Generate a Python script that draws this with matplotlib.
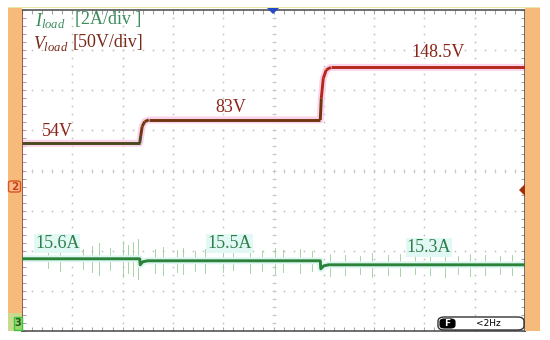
import numpy as np
import matplotlib
matplotlib.use("Agg")
import matplotlib.pyplot as plt
from matplotlib.patches import Rectangle, FancyBboxPatch, Polygon
from matplotlib.collections import LineCollection

# ---------------- data ----------------
# time in screen divisions, voltage in V, current in A
v_time = [0.0, 2.34, 2.36, 2.39, 2.44, 2.52, 5.93, 5.95, 5.99, 6.05, 6.14, 10.0]
v_load = [54.0, 54.0, 63.0, 75.0, 81.0, 83.0, 83.0, 110.0, 135.0, 145.5, 148.5, 148.5]

i_time = [0.0, 2.34, 2.35, 2.40, 2.50, 5.93, 5.94, 6.00, 6.10, 10.0]
i_load = [15.6, 15.6, 15.3, 15.45, 15.5, 15.5, 15.1, 15.25, 15.3, 15.3]

spike_time = [0.52, 0.75, 1.21, 1.39, 1.53, 1.75, 2.01, 2.11, 2.21, 2.31, 2.64, 2.80,
              3.08, 3.20, 3.44, 3.64, 3.99, 4.19, 4.53, 4.77, 5.03, 5.19, 5.53, 5.77,
              6.12, 6.42, 6.72, 6.96, 7.28, 7.52, 7.82, 8.11, 8.41, 8.67, 8.91, 9.21,
              9.51, 9.75]
spike_amp = [0.45, 0.6, 0.5, 0.65, 0.8, 0.55, 0.9, 0.7, 0.85, 1.0, 0.6, 0.7,
             0.55, 0.65, 0.5, 0.6, 0.55, 0.45, 0.6, 0.5, 0.65, 0.55, 0.6, 0.5,
             0.55, 0.5, 0.45, 0.6, 0.5, 0.55, 0.45, 0.5, 0.6, 0.45, 0.55, 0.5,
             0.45, 0.5]

v_labels = ["54V", "83V", "148.5V"]
i_labels = ["15.6A", "15.5A", "15.3A"]
v_scale = "[50V/div]"
i_scale = "[2A/div ]"

# channel scaling: volts/div, offset (div); amps/div, offset (div)
V_PER_DIV, V_OFF = 50.0, -0.4
A_PER_DIV, A_OFF = 2.0, -10.0

def vdiv(v):
    return np.asarray(v) / V_PER_DIV + V_OFF

def idiv(i):
    return np.asarray(i) / A_PER_DIV + A_OFF

plt.rcParams['mathtext.fontset'] = 'custom'
plt.rcParams['mathtext.rm'] = 'Liberation Serif'
plt.rcParams['mathtext.it'] = 'Liberation Serif:italic'
SERIF = 'Liberation Serif'

W, H = 550, 340
fig = plt.figure(figsize=(W / 100, H / 100), dpi=100)
fig.patch.set_facecolor('white')

def fx(px):
    return px / W

def fy(py):
    return 1 - py / H

# side bars
ORANGE = '#F6BB7A'
fig.patches.append(Rectangle((fx(8), fy(331)), fx(14), (331 - 7) / H, transform=fig.transFigure,
                             facecolor=ORANGE, edgecolor='none', zorder=0))
fig.patches.append(Rectangle((fx(525), fy(331)), fx(15), (331 - 7) / H, transform=fig.transFigure,
                             facecolor=ORANGE, edgecolor='none', zorder=0))
fig.patches.append(Rectangle((fx(8), fy(331)), fx(14), 18 / H, transform=fig.transFigure,
                             facecolor='#C9DA8E', edgecolor='none', zorder=1))
fig.patches.append(Rectangle((fx(8), fy(8)), fx(532), 1.5 / H, transform=fig.transFigure,
                             facecolor='#E8E6A8', edgecolor='none', zorder=1))

ax = fig.add_axes([fx(22), fy(331), 503 / W, 321 / H])
ax.set_xlim(0, 10)
ax.set_ylim(-4, 4)
ax.set_facecolor('white')

# ticks on border
ax.set_xticks(np.arange(0, 11, 1))
ax.set_yticks(np.arange(-4, 5, 1))
ax.set_xticks(np.arange(0, 10.01, 0.2), minor=True)
ax.set_yticks(np.arange(-4, 4.01, 0.2), minor=True)
ax.tick_params(which='both', direction='in', length=3, width=0.8, color='#a5a5a5',
               top=True, right=True, labelbottom=False, labelleft=False)
for s in ['top', 'bottom', 'right']:
    ax.spines[s].set_color('#555555')
    ax.spines[s].set_linewidth(1.2)
ax.spines['left'].set_color('#8a3a2a')
ax.spines['left'].set_linewidth(1.2)

# dotted grid
GRID = '#bdbdbd'
xs = np.arange(0, 10.01, 0.2)
ys = np.arange(-4, 4.01, 0.2)
for k in range(1, 10):
    ax.plot(np.full_like(ys, k), ys, ls='none', marker='s', ms=1.1, mec='none', mfc=GRID, zorder=1)
for j in range(-3, 4):
    ax.plot(xs, np.full_like(xs, j), ls='none', marker='s', ms=1.1, mec='none', mfc=GRID, zorder=1)
# centre axes with small ticks
ax.plot(xs, np.zeros_like(xs), ls='none', marker='|', ms=3.5, mew=0.7, color='#c8c8c8', zorder=1)
ax.plot(np.full_like(ys, 5), ys, ls='none', marker='_', ms=3.5, mew=0.7, color='#c8c8c8', zorder=1)

# current noise spikes
for t, a in zip(spike_time, spike_amp):
    base = np.interp(t, i_time, i_load)
    ax.plot([t, t], idiv([base - a, base + a]), color='#98CC98', lw=0.6, zorder=2)

# current trace
ax.plot(i_time, idiv(i_load), color='#DDF6F2', lw=5, solid_capstyle='butt', zorder=2)
ax.plot(i_time, idiv(i_load), color='#2C8239', lw=2.1, solid_capstyle='butt', zorder=3)

# voltage trace (colour by level, as on the screen)
vt = np.asarray(v_time)
vy = vdiv(v_load)
ax.plot(vt, vy, color='#FAD3EA', lw=5.0, solid_capstyle='butt', zorder=2)
segs = [[(vt[n], vy[n]), (vt[n + 1], vy[n + 1])] for n in range(len(vt) - 1)]
cols = []
for n in range(len(vt) - 1):
    m = 0.5 * (v_load[n] + v_load[n + 1])
    cols.append('#4A4A1E' if m < 60 else ('#70360F' if m < 100 else '#B4291B'))
ax.add_collection(LineCollection(segs, colors=cols, linewidths=2.1, zorder=3, capstyle='butt'))

# value labels
VCOL = '#8A2418'
ICOL = '#2E7E4A'
v_pos = [(0.40, 0.98), (3.84, 1.58), (7.75, 2.93)]
i_pos = [(0.26, -1.81), (3.68, -1.81), (7.65, -1.91)]
for (x, y), s in zip(v_pos, v_labels):
    ax.text(x, y, s, color=VCOL, fontsize=13, family=SERIF, va='center', ha='left', zorder=4)
for (x, y), s in zip(i_pos, i_labels):
    ax.text(x, y, s, color=ICOL, fontsize=13, family=SERIF, va='center', ha='left', zorder=4,
            bbox=dict(boxstyle='square,pad=0.05', fc='#E2F8F5', ec='none'))

# scale legend
ax.text(0.26, 3.72, r'$I_{load}$', color='#3C8C5C', fontsize=13, va='center', ha='left', zorder=4)
ax.text(1.05, 3.76, i_scale, color='#3C8C5C', fontsize=13, family=SERIF, va='center', ha='left', zorder=4)
ax.text(0.22, 3.16, r'$V_{load}$', color='#7A2A1A', fontsize=13, va='center', ha='left', zorder=4)
ax.text(1.00, 3.20, v_scale, color='#7A2A1A', fontsize=13, family=SERIF, va='center', ha='left', zorder=4)

# markers: trigger, channel refs
fig.patches.append(Polygon([(fx(267), fy(8)), (fx(279), fy(8)), (fx(273), fy(14))],
                           closed=True, transform=fig.transFigure, facecolor='#2448C8',
                           edgecolor='none', zorder=5))
fig.patches.append(Polygon([(fx(525), fy(184)), (fx(525), fy(196)), (fx(519), fy(190))],
                           closed=True, transform=fig.transFigure, facecolor='#A0300E',
                           edgecolor='none', zorder=5))
fig.patches.append(FancyBboxPatch((fx(8.5), fy(192)), fx(12), 11 / H,
                                  boxstyle='round,pad=0,rounding_size=0.005',
                                  transform=fig.transFigure, facecolor='#F7B98A',
                                  edgecolor='#D9541E', lw=1, zorder=5))
fig.text(fx(14.5), fy(186.5), '2', color='#C8431A', fontsize=7.5, ha='center', va='center',
         weight='bold', zorder=6)
fig.patches.append(Rectangle((fx(14), fy(330)), fx(8), 13 / H, transform=fig.transFigure,
                             facecolor='#9AD66A', edgecolor='#3CC43C', lw=1, zorder=5))
fig.text(fx(18), fy(323.5), '3', color='#1E5A1E', fontsize=7, ha='center', va='center',
         weight='bold', zorder=6)

# frequency readout box
fig.patches.append(FancyBboxPatch((fx(438), fy(330)), fx(86), 13 / H,
                                  boxstyle='round,pad=0,rounding_size=0.012',
                                  transform=fig.transFigure, facecolor='white',
                                  edgecolor='#333333', lw=1, zorder=5))
fig.patches.append(FancyBboxPatch((fx(440), fy(328)), fx(15), 9 / H,
                                  boxstyle='round,pad=0,rounding_size=0.008',
                                  transform=fig.transFigure, facecolor='black',
                                  edgecolor='black', lw=0.8, zorder=6))
fig.text(fx(447.5), fy(323.5), 'F', color='white', fontsize=6.5, ha='center', va='center',
         weight='bold', zorder=7)
fig.text(fx(488), fy(323.5), '<2Hz', color='black', fontsize=6.5, ha='center', va='center',
         zorder=7)

fig.savefig('out.png', dpi=100)
